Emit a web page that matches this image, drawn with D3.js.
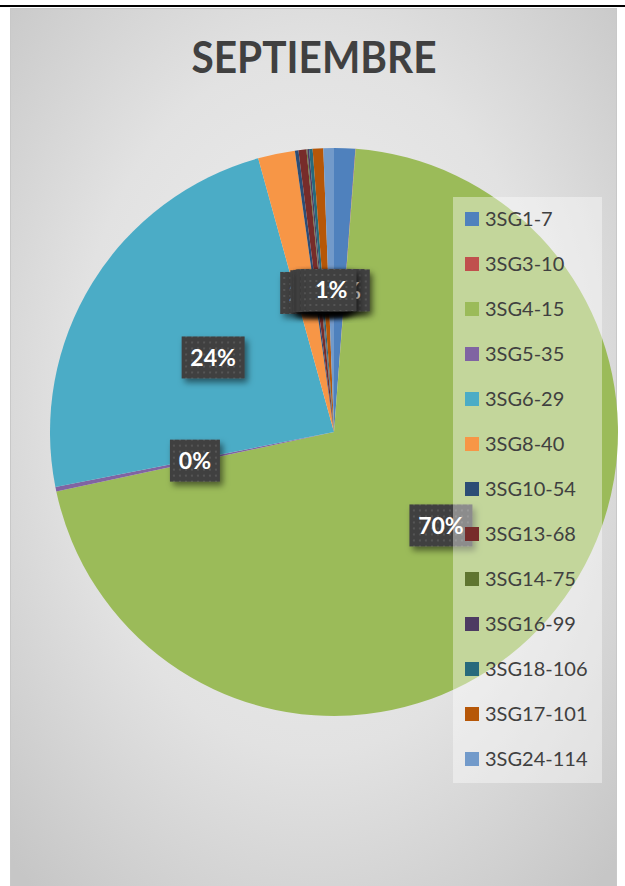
<!DOCTYPE html>
<html>
<head>
    <meta charset="utf-8">
    <title>SEPTIEMBRE</title>
    <script src="https://d3js.org/d3.v7.min.js"></script>
    <style>
        body { margin: 0; background: #ffffff; }
        svg { display: block; }
    </style>
</head>
<body>
    <div id="chart"></div>

    <script>
        // Chart data (share of each group, in percent)
        var categories = ["3SG1-7", "3SG3-10", "3SG4-15", "3SG5-35", "3SG6-29", "3SG8-40",
                          "3SG10-54", "3SG13-68", "3SG14-75", "3SG16-99", "3SG18-106", "3SG17-101", "3SG24-114"];
        var values = [1.2, 0.02, 70.4, 0.25, 23.8, 2.1, 0.2, 0.45, 0.05, 0.1, 0.2, 0.6, 0.6];
        var colors = ["#4f81bd", "#c0504d", "#9bbb59", "#8064a2", "#4bacc6", "#f79646",
                      "#2c4d75", "#772c2a", "#5f7530", "#4d3b62", "#276a7c", "#b65708", "#729aca"];
        var title = "SEPTIEMBRE";

        var width = 625;
        var height = 886;

        var svg = d3.select("#chart")
            .append("svg")
            .attr("width", width)
            .attr("height", height);

        var defs = svg.append("defs");

        // Background gradient of the chart area
        var bg = defs.append("radialGradient")
            .attr("id", "bg")
            .attr("cx", "50%").attr("cy", "45%")
            .attr("r", "72%");
        bg.append("stop").attr("offset", "0%").attr("stop-color", "#f0f0f0");
        bg.append("stop").attr("offset", "55%").attr("stop-color", "#e2e2e2");
        bg.append("stop").attr("offset", "100%").attr("stop-color", "#c6c6c6");

        // Dotted fill for the data labels
        var pat = defs.append("pattern")
            .attr("id", "dots")
            .attr("width", 6).attr("height", 6)
            .attr("patternUnits", "userSpaceOnUse");
        pat.append("rect").attr("width", 6).attr("height", 6).attr("fill", "#404040");
        pat.append("rect").attr("x", 2).attr("y", 2).attr("width", 2).attr("height", 2).attr("fill", "#555555");

        var shadow = defs.append("filter")
            .attr("id", "shadow")
            .attr("x", "-30%").attr("y", "-30%")
            .attr("width", "170%").attr("height", "170%");
        shadow.append("feDropShadow")
            .attr("dx", 3).attr("dy", 4)
            .attr("stdDeviation", 3)
            .attr("flood-color", "#000")
            .attr("flood-opacity", 0.5);

        // Page top line and chart area
        svg.append("rect")
            .attr("x", 0).attr("y", 5)
            .attr("width", width).attr("height", 2)
            .attr("fill", "#000");

        svg.append("rect")
            .attr("x", 10.5).attr("y", 8.5)
            .attr("width", 606).attr("height", 880)
            .attr("fill", "url(#bg)")
            .attr("stroke", "#c8c8c8");

        // Title
        svg.append("text")
            .attr("x", 314)
            .attr("y", 73)
            .attr("text-anchor", "middle")
            .attr("textLength", 245)
            .attr("lengthAdjust", "spacingAndGlyphs")
            .style("font-family", "Lato, 'Open Sans', sans-serif")
            .style("font-weight", "bold")
            .style("font-size", "44px")
            .style("fill", "#404040")
            .text(title);

        // Pie
        var cx = 334, cy = 432, radius = 284;

        var pie = d3.pie()
            .sort(null)
            .value(function(d) { return d; });

        var arcs = pie(values);
        var total = d3.sum(values);

        var arc = d3.arc().innerRadius(0).outerRadius(radius);
        var labelArc = d3.arc().innerRadius(radius * 0.5).outerRadius(radius * 0.5);

        var g = svg.append("g")
            .attr("transform", "translate(" + cx + "," + cy + ")");

        g.selectAll("path.slice")
            .data(arcs)
            .enter()
            .append("path")
            .attr("class", "slice")
            .attr("d", arc)
            .attr("fill", function(d, i) { return colors[i]; });

        // Data labels (percent of total)
        var fmt = function(v) { return Math.round(v / total * 100) + "%"; };

        var labels = g.selectAll("g.label")
            .data(arcs)
            .enter()
            .append("g")
            .attr("class", "label")
            .attr("transform", function(d) {
                var c = labelArc.centroid(d);
                return "translate(" + c[0] + "," + c[1] + ")";
            });

        labels.append("rect")
            .attr("x", function(d) { return fmt(d.value).length > 2 ? -31.5 : -25; })
            .attr("y", -21)
            .attr("width", function(d) { return fmt(d.value).length > 2 ? 63 : 50; })
            .attr("height", 42)
            .attr("fill", "url(#dots)")
            .attr("filter", "url(#shadow)");

        labels.append("text")
            .attr("text-anchor", "middle")
            .attr("dy", "0.36em")
            .style("font-family", "Lato, 'Open Sans', sans-serif")
            .style("font-weight", "bold")
            .style("font-size", "23px")
            .style("fill", "#ffffff")
            .text(function(d) { return fmt(d.value); });

        // Legend
        var legend = svg.append("g");

        legend.append("rect")
            .attr("x", 453).attr("y", 197)
            .attr("width", 149).attr("height", 586)
            .attr("fill", "#ffffff")
            .attr("fill-opacity", 0.4);

        var items = legend.selectAll("g.item")
            .data(categories)
            .enter()
            .append("g")
            .attr("class", "item")
            .attr("transform", function(d, i) { return "translate(465," + (219 + i * 45) + ")"; });

        items.append("rect")
            .attr("x", 0).attr("y", -7)
            .attr("width", 14).attr("height", 14)
            .attr("fill", function(d, i) { return colors[i]; });

        items.append("text")
            .attr("x", 20)
            .attr("dy", "0.36em")
            .style("font-family", "Lato, 'Open Sans', sans-serif")
            .style("font-size", "20px")
            .style("fill", "#404040")
            .text(function(d) { return d; });
    </script>
</body>
</html>
